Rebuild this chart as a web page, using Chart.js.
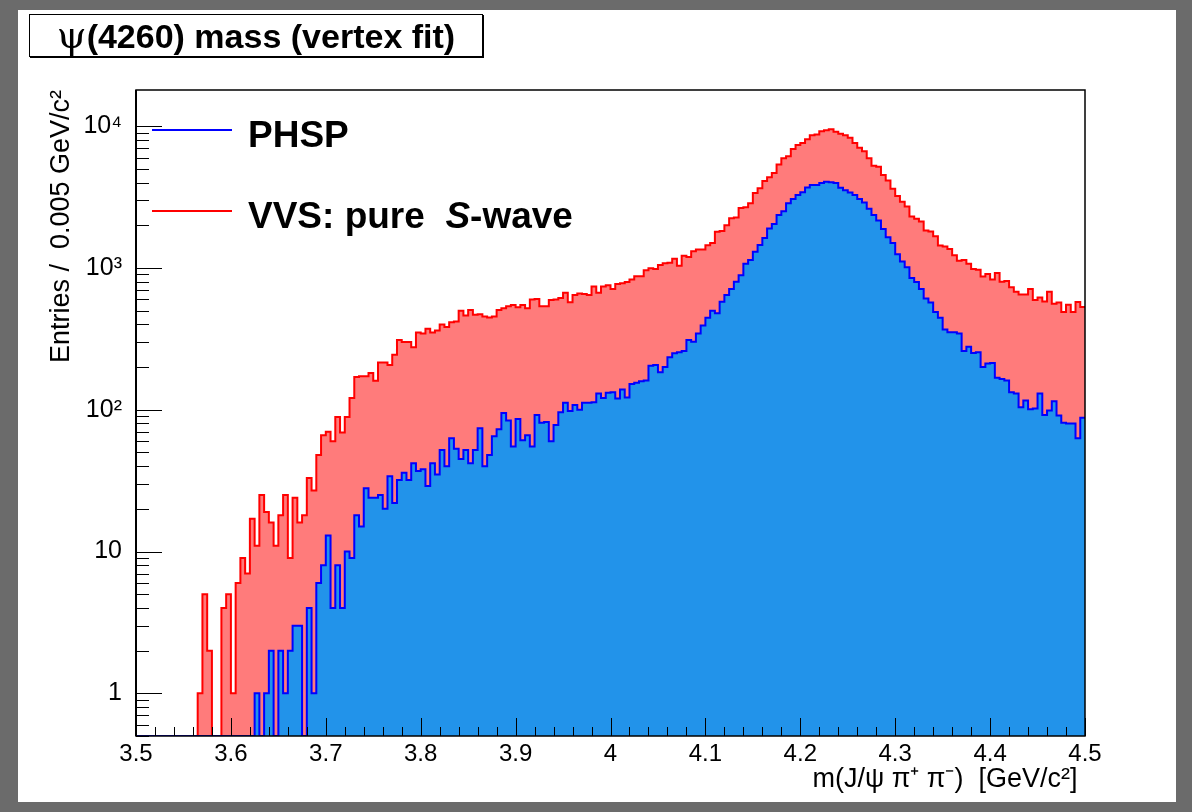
<!DOCTYPE html>
<html>
<head>
<meta charset="utf-8">
<script src="https://cdn.jsdelivr.net/npm/chart.js@4.4.1/dist/chart.umd.min.js"></script>
<style>
  html, body { margin: 0; padding: 0; }
  body { width: 1192px; height: 812px; background: #6b6b6b; position: relative; overflow: hidden;
         font-family: "Liberation Sans", Arial, Helvetica, sans-serif; }
  #pad { position: absolute; left: 18px; top: 10px; width: 1158px; height: 792px; background: #fff; }
  #c { position: absolute; left: 0; top: 0; }
  #title { position: absolute; left: 29px; top: 14px; width: 452px; height: 41px; border: 1px solid #000;
           box-shadow: 1px 1px 0 #000; background: #fff; font-weight: bold; font-size: 34px;
           line-height: 41px; text-align: center; white-space: nowrap; }
  #title .gr { font-family: "DejaVu Serif", "Liberation Serif", serif; font-weight: normal; font-size: 38px; }
  .lgline { position: absolute; left: 152px; width: 80px; height: 2px; }
  .lgtext { position: absolute; left: 248px; font-weight: bold; font-size: 37px; line-height: 37px; white-space: nowrap; }
</style>
</head>
<body>
<div id="pad"></div>
<canvas id="c" width="1192" height="812"></canvas>
<div id="title"><span class="gr">ψ</span>(4260) mass (vertex fit)</div>
<div class="lgline" style="top:129px;background:#0000ff"></div>
<div class="lgtext" style="top:116px">PHSP</div>
<div class="lgline" style="top:210px;background:#ff0000"></div>
<div class="lgtext" style="top:197px">VVS: pure&nbsp; <i>S</i>-wave</div>
<script>
// histogram binning: 200 bins of 0.005 GeV/c^2 from 3.5 to 4.5
const xMin = 3.5, xMax = 4.5, binWidth = 0.005;
const yMin = 0.5, yMax = 18000;

// VVS: pure S-wave (red)
const vvs = [
  0, 0, 0, 0, 0, 0, 0, 0, 0, 0,
  0, 0, 0, 1, 5, 2, 0, 0, 4, 5,
  1, 6, 9, 7, 17, 11, 25, 19, 16, 11,
  18, 25, 9, 24, 16, 18, 33, 27, 48, 66,
  70, 60, 89, 69, 89, 121, 170, 172, 172, 182,
  160, 215, 215, 207, 244, 311, 300, 300, 276, 350,
  345, 372, 350, 362, 400, 383, 415, 420, 500, 463,
  506, 467, 472, 455, 448, 455, 506, 520, 536, 548,
  528, 548, 520, 600, 605, 536, 536, 595, 600, 615,
  670, 573, 645, 660, 655, 645, 740, 670, 740, 755,
  710, 770, 780, 795, 830, 875, 875, 965, 995, 985,
  1050, 1080, 1090, 1160, 1035, 1220, 1195, 1310, 1350, 1350,
  1445, 1500, 1800, 1820, 2000, 2240, 2270, 2650, 2680, 2860,
  3380, 3650, 4100, 4360, 4680, 5360, 5940, 6130, 6900, 7370,
  7600, 8100, 8640, 8750, 9200, 9380, 9500, 9150, 8850, 8640,
  8300, 7600, 7050, 6660, 5940, 5260, 5180, 4530, 4140, 3620,
  3220, 2930, 2710, 2310, 2220, 2130, 1840, 1810, 1675, 1440,
  1420, 1360, 1230, 1125, 1140, 1070, 985, 970, 870, 905,
  830, 920, 800, 810, 730, 680, 650, 650, 710, 595,
  620, 580, 680, 560, 570, 490, 550, 490, 575, 530
];

// PHSP (blue)
const phsp = [
  0, 0, 0, 0, 0, 0, 0, 0, 0, 0,
  0, 0, 0, 0, 0, 0, 0, 0, 0, 0,
  0, 0, 0, 0, 0, 1, 0, 1, 2, 0,
  2, 1, 2, 3, 3, 0, 4, 1, 6, 8,
  13, 4, 8, 4, 10, 9, 18, 15, 28, 24,
  24, 25, 20, 34, 22, 32, 36, 32, 42, 37,
  38, 29, 42, 35, 52, 40, 63, 53, 45, 52,
  42, 52, 74, 40, 48, 65, 73, 95, 84, 55,
  86, 61, 66, 55, 92, 81, 82, 60, 78, 96,
  112, 98, 108, 100, 112, 112, 113, 130, 121, 132,
  133, 120, 139, 122, 152, 155, 159, 161, 204, 207,
  184, 200, 235, 250, 254, 260, 311, 302, 345, 393,
  445, 500, 480, 578, 645, 710, 800, 890, 1070, 1140,
  1300, 1450, 1630, 1900, 2040, 2360, 2510, 2860, 3060, 3270,
  3420, 3700, 3850, 3850, 3980, 4050, 4020, 3980, 3680, 3530,
  3400, 3270, 3060, 2900, 2620, 2360, 2160, 1880, 1650, 1500,
  1250, 1110, 1010, 850, 795, 710, 610, 570, 490, 445,
  368, 352, 352, 345, 260, 278, 251, 254, 200, 212,
  214, 168, 165, 161, 133, 130, 104, 116, 101, 102,
  130, 92, 99, 115, 91, 81, 80, 80, 63, 88
];

const yLabels = { 1: "1", 10: "10", 100: "10²", 1000: "10³", 10000: "10⁴" };

// flat-topped step outline: two points per bin, empty bins sit on the axis floor
function steps(vals) {
  var pts = [];
  vals.forEach(function (v, i) {
    var lo = xMin + i * binWidth, hi = lo + binWidth, y = v > 0 ? v : yMin;
    pts.push({ x: lo, y: y }, { x: hi, y: y });
  });
  return pts;
}

function isDecade(v) { var l = Math.log10(v); return Math.abs(l - Math.round(l)) < 1e-9; }
function isTenth(v) { return Math.abs(v * 10 - Math.round(v * 10)) < 1e-6; }

// ROOT style: ticks pointing inward, plus the frame box
var rootAxes = {
  id: "rootAxes",
  afterDatasetsDraw: function (chart) {
    var ctx = chart.ctx, a = chart.chartArea, xs = chart.scales.x, ys = chart.scales.y;
    ctx.save();
    ctx.strokeStyle = "#000";
    ctx.lineWidth = 1;
    ctx.beginPath();
    xs.ticks.forEach(function (t) {
      var px = Math.round(xs.getPixelForValue(t.value)) + 0.5;
      var len = isTenth(t.value) ? 18 : 9;
      ctx.moveTo(px, a.bottom); ctx.lineTo(px, a.bottom - len);
    });
    ys.ticks.forEach(function (t) {
      var py = Math.round(ys.getPixelForValue(t.value)) + 0.5;
      var len = isDecade(t.value) ? 26 : 13;
      ctx.moveTo(a.left, py); ctx.lineTo(a.left + len, py);
    });
    ctx.stroke();
    ctx.lineWidth = 1.5;
    ctx.strokeRect(a.left, a.top, a.right - a.left, a.bottom - a.top);
    ctx.lineWidth = 2;
    ctx.beginPath(); ctx.moveTo(a.left, a.top); ctx.lineTo(a.left, a.bottom); ctx.stroke();
    ctx.restore();
  }
};

var font = "'Liberation Sans', Arial, Helvetica, sans-serif";
Chart.defaults.font.family = font;
Chart.defaults.color = "#000";

new Chart(document.getElementById("c"), {
  type: "line",
  data: {
    datasets: [
      { label: "PHSP", data: steps(phsp), borderColor: "#0000ff", backgroundColor: "#2293ea",
        borderWidth: 2, fill: "start", pointRadius: 0, tension: 0, order: 0 },
      { label: "VVS: pure S-wave", data: steps(vvs), borderColor: "#ff0000", backgroundColor: "#ff7b7b",
        borderWidth: 2, fill: "start", pointRadius: 0, tension: 0, order: 1 }
    ]
  },
  options: {
    responsive: false,
    animation: false,
    devicePixelRatio: 1,
    layout: { padding: { left: 0, top: 90, right: 107, bottom: 0 } },
    plugins: { legend: { display: false }, tooltip: { enabled: false } },
    scales: {
      x: {
        type: "linear", min: xMin, max: xMax,
        grid: { display: false, drawTicks: false }, border: { display: false },
        afterBuildTicks: function (s) {
          var t = [];
          for (var i = 0; i <= 50; i++) t.push({ value: +(xMin + i * 0.02).toFixed(2) });
          s.ticks = t;
        },
        afterFit: function (s) { s.height = 76; },
        ticks: {
          autoSkip: false, maxRotation: 0, padding: 4, font: { size: 24 },
          callback: function (v) { return isTenth(v) ? String(+v.toFixed(1)) : ""; }
        },
        title: { display: true, text: "m(J/ψ π⁺ π⁻)  [GeV/c²] ", align: "end",
                 font: { size: 27 }, padding: { top: 0, bottom: 16 } }
      },
      y: {
        type: "logarithmic", min: yMin, max: yMax,
        grid: { display: false, drawTicks: false }, border: { display: false },
        afterBuildTicks: function (s) {
          var t = [];
          for (var d = -1; d <= 4; d++) {
            for (var m = 1; m <= 9; m++) {
              var v = +(m * Math.pow(10, d)).toPrecision(6);
              if (v >= yMin && v <= yMax) t.push({ value: v });
            }
          }
          s.ticks = t;
        },
        afterFit: function (s) { s.width = 136; },
        ticks: {
          autoSkip: false, padding: 14, font: { size: 25 },
          callback: function (v) { return yLabels[v] || ""; }
        },
        title: { display: true, text: "Entries /  0.005 GeV/c²", align: "end",
                 font: { size: 27 }, padding: { top: 45, bottom: 0 } }
      }
    }
  },
  plugins: [rootAxes]
});
</script>
</body>
</html>
